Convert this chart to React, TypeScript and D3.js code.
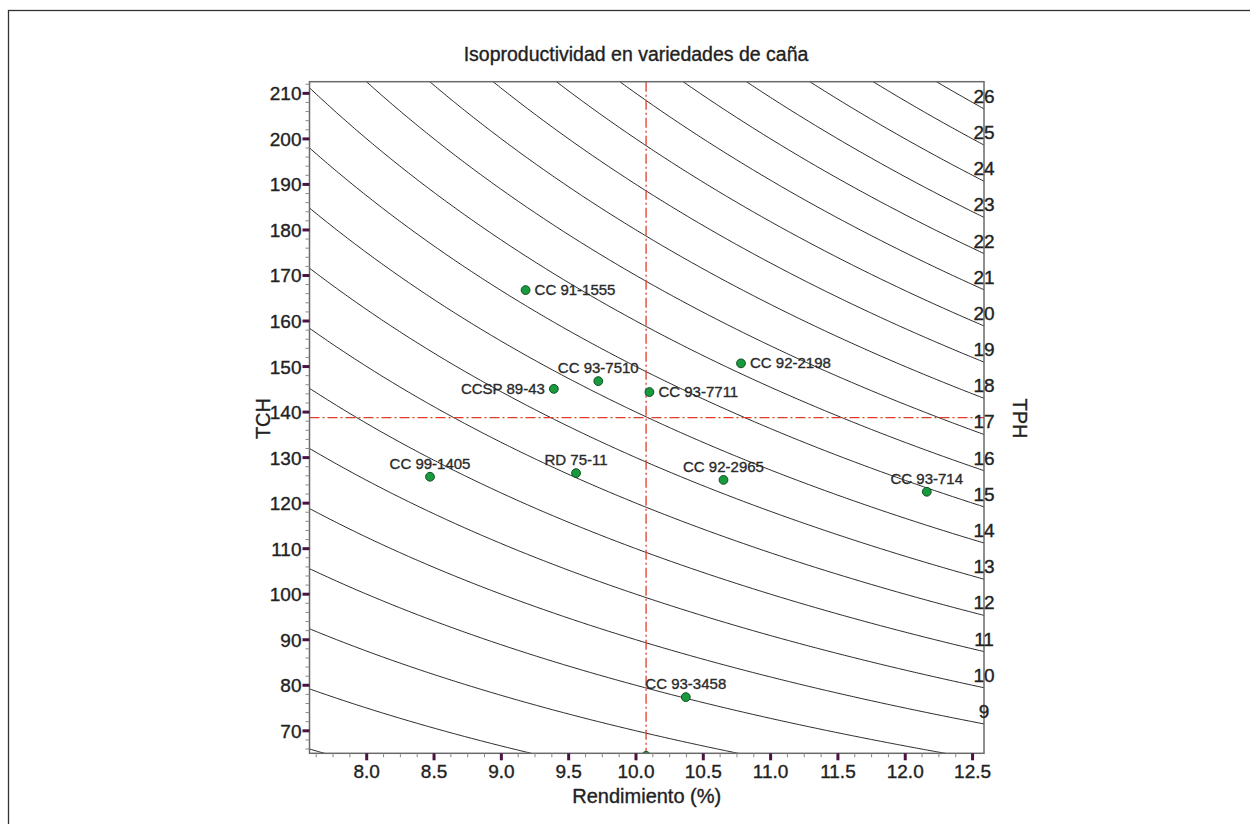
import React from "react";
import * as d3 from "d3";

const chartTitle = "Isoproductividad en variedades de caña";
const xTitle = "Rendimiento (%)";
const yTitle = "TCH";
const y2Title = "TPH";

const varieties = ["CC 91-1555", "CC 93-7510", "CCSP 89-43", "CC 93-7711", "CC 92-2198", "CC 99-1405", "RD 75-11", "CC 92-2965", "CC 93-714", "CC 93-3458", ""];
const rendimiento = [9.18, 9.72, 9.39, 10.10, 10.78, 8.47, 9.555, 10.65, 12.16, 10.37, 10.075];
const tch = [166.8, 146.8, 145.1, 144.4, 150.7, 125.8, 126.6, 125.1, 122.5, 77.4, 64.5];
const labelPlacement = ["right", "above", "left", "right", "right", "above", "above", "above", "above", "above", "above"];

const meanRend = 10.075;
const meanTCH = 138.8;

const tphLevels = [5, 6, 7, 8, 9, 10, 11, 12, 13, 14, 15, 16, 17, 18, 19, 20, 21, 22, 23, 24, 25, 26, 27];
const xTicks = [8.0, 8.5, 9.0, 9.5, 10.0, 10.5, 11.0, 11.5, 12.0, 12.5];
const yTicks = [70, 80, 90, 100, 110, 120, 130, 140, 150, 160, 170, 180, 190, 200, 210];

const X0 = 7.575, X1 = 12.585, Y0 = 65.06, Y1 = 212.56;
const L = 309.5, R = 984, T = 81.7, B = 753.3;

export default function App() {
  const x = d3.scaleLinear().domain([X0, X1]).range([L, R]);
  const y = d3.scaleLinear().domain([Y0, Y1]).range([B, T]);
  const font = "'Liberation Sans', Arial, sans-serif";
  const textColor = "#222";
  const tickColor = "#4a1442";
  const heavy = { stroke: "#222", strokeWidth: 0.35 };

  const xMinor: number[] = [];
  for (let v = 7.625; v <= X1; v += 0.125) if (Math.abs((v * 2) % 1) > 1e-6) xMinor.push(v);
  const yMinor: number[] = [];
  for (let v = 66; v <= Y1; v += 2) if (v % 10 !== 0) yMinor.push(v);

  const samples = d3.range(0, 301).map((i) => X0 + ((X1 - X0) * i) / 300);

  const curvePath = (tph: number) =>
    d3
      .line<number>()
      .x((r) => x(r))
      .y((r) => y((tph * 100) / r))(samples) || "";

  const rightLabels = tphLevels
    .map((t) => ({ t, v: (t * 100) / X1 }))
    .filter((d) => d.v > Y0 + 4 && d.v < Y1);

  return (
    <svg width={1250} height={824} style={{ position: "absolute", left: 0, top: 0 }} fontFamily={font}>
      <rect x={0} y={0} width={1250} height={824} fill="#fff" />
      <rect x={8.5} y={10.5} width={1260} height={830} fill="none" stroke="#333" strokeWidth={1.3} />
      <defs>
        <clipPath id="plotClip">
          <rect x={L} y={T} width={R - L} height={B - T} />
        </clipPath>
      </defs>

      <text x={636} y={61} textAnchor="middle" fontSize={19.5} fill={textColor} {...heavy}>
        {chartTitle}
      </text>

      <g clipPath="url(#plotClip)">
        {tphLevels.map((t) => (
          <path key={t} d={curvePath(t)} fill="none" stroke="#111" strokeWidth={0.9} />
        ))}
        <line x1={L} x2={R} y1={y(meanTCH)} y2={y(meanTCH)} stroke="#e43a2c" strokeWidth={1.3} strokeDasharray="10,3,2,3" />
        <line x1={x(meanRend)} x2={x(meanRend)} y1={T} y2={B} stroke="#e43a2c" strokeWidth={1.3} strokeDasharray="10,3,2,3" />
        {varieties.map((v, i) => (
          <circle key={i} cx={x(rendimiento[i])} cy={y(tch[i])} r={4.4} fill="#1a9a3f" stroke="#0b4f1e" strokeWidth={1} />
        ))}
      </g>

      {varieties.map((v, i) => {
        if (!v) return null;
        const cx = x(rendimiento[i]);
        const cy = y(tch[i]);
        const p = labelPlacement[i];
        const common = { fontSize: 15, fill: "#2a2a2a", stroke: "#2a2a2a", strokeWidth: 0.35 };
        if (p === "right")
          return (
            <text key={i} x={cx + 9} y={cy + 5} {...common}>
              {v}
            </text>
          );
        if (p === "left")
          return (
            <text key={i} x={cx - 9} y={cy + 5} textAnchor="end" {...common}>
              {v}
            </text>
          );
        return (
          <text key={i} x={cx} y={cy - 8} textAnchor="middle" {...common}>
            {v}
          </text>
        );
      })}

      {/* frame */}
      <rect x={L} y={T} width={R - L} height={B - T} fill="none" stroke="#6a6a6a" strokeWidth={1.5} />

      {/* x axis ticks */}
      {xMinor.map((v, i) => (
        <line key={"xm" + i} x1={x(v)} x2={x(v)} y1={B} y2={B + 4} stroke="#888" strokeWidth={1} />
      ))}
      {xTicks.map((v) => (
        <g key={"xt" + v}>
          <line x1={x(v)} x2={x(v)} y1={B} y2={B + 7} stroke={tickColor} strokeWidth={3} />
          <text x={x(v)} y={B + 25} textAnchor="middle" fontSize={19} fill={textColor} {...heavy}>
            {v.toFixed(1)}
          </text>
        </g>
      ))}
      <text x={(L + R) / 2} y={803} textAnchor="middle" fontSize={20} fill={textColor} {...heavy}>
        {xTitle}
      </text>

      {/* y axis ticks */}
      {yMinor.map((v, i) => (
        <line key={"ym" + i} x1={L - 4} x2={L} y1={y(v)} y2={y(v)} stroke="#888" strokeWidth={1} />
      ))}
      {yTicks.map((v) => (
        <g key={"yt" + v}>
          <line x1={L - 7} x2={L} y1={y(v)} y2={y(v)} stroke={tickColor} strokeWidth={3} />
          <text x={L - 8} y={y(v) + 7} textAnchor="end" fontSize={19} fill={textColor} {...heavy}>
            {v}
          </text>
        </g>
      ))}
      <text transform={`translate(270, ${y(meanTCH) + 1}) rotate(-90)`} textAnchor="middle" fontSize={20} fill={textColor} {...heavy}>
        {yTitle}
      </text>

      {/* right TPH labels */}
      {rightLabels.map((d) => (
        <text key={"r" + d.t} x={R} y={y(d.v) - 6} textAnchor="middle" fontSize={19} fill={textColor} {...heavy}>
          {d.t}
        </text>
      ))}
      <text transform={`translate(1013, ${y(meanTCH) + 1}) rotate(90)`} textAnchor="middle" fontSize={20} fill={textColor} {...heavy}>
        {y2Title}
      </text>
    </svg>
  );
}
